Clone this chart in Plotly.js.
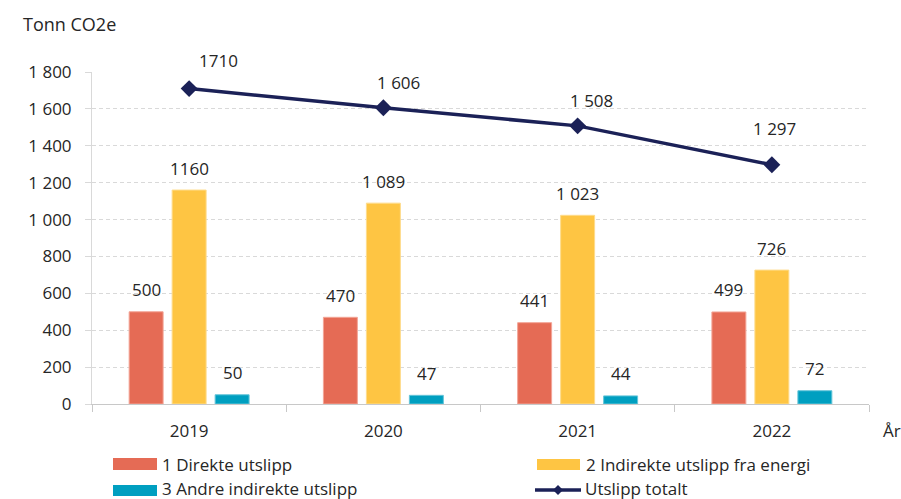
<!DOCTYPE html>
<html>
<head>
<meta charset="utf-8">
<script src="https://cdn.plot.ly/plotly-3.0.1.min.js"></script>
<style>html,body{margin:0;padding:0;background:#fff;}#chart{width:901px;height:499px;}</style>
</head>
<body>
<div id="chart"></div>
<script>
// ---- data ----
const years = ["2019", "2020", "2021", "2022"];
const direkte = [500, 470, 441, 499];
const indirekteEnergi = [1160, 1089, 1023, 726];
const andreIndirekte = [50, 47, 44, 72];
const totalt = [1710, 1606, 1508, 1297];
const direkteLabels = ["500", "470", "441", "499"];
const indirekteEnergiLabels = ["1160", "1 089", "1 023", "726"];
const andreIndirekteLabels = ["50", "47", "44", "72"];
const totaltLabels = ["1710", "1 606", "1 508", "1 297"];
const seriesNames = ["1 Direkte utslipp", "2 Indirekte utslipp fra energi", "3 Andre indirekte utslipp", "Utslipp totalt"];
const yTickVals = [0, 200, 400, 600, 800, 1000, 1200, 1400, 1600, 1800];
const yTickText = ["0", "200", "400", "600", "800", "1 000", "1 200", "1 400", "1 600", "1 800"];

// ---- styles ----
const cRed = "#e56b55", cYellow = "#fec543", cTeal = "#009fc0", cNavy = "#1b2157";
const txt = "#262626";
const FONT = "Open Sans, Noto Sans, sans-serif";
const M = {l: 92, r: 32, t: 72, b: 95};
const W = 901, H = 499;
const PW = W - M.l - M.r, PH = H - M.t - M.b;
const px = x => (x - M.l) / PW;
const py = y => (H - M.b - y) / PH;

const barStyle = (c, lc) => ({color: c, line: {color: lc, width: 1}});
const traces = [
  {type: "bar", x: years, y: direkte, name: seriesNames[0], marker: barStyle(cRed, "#f3a597"), showlegend: false, hoverinfo: "y"},
  {type: "bar", x: years, y: indirekteEnergi, name: seriesNames[1], marker: barStyle(cYellow, "#fedc8c"), showlegend: false, hoverinfo: "y"},
  {type: "bar", x: years, y: andreIndirekte, name: seriesNames[2], marker: barStyle(cTeal, "#66c5d9"), showlegend: false, hoverinfo: "y"},
  {type: "scatter", mode: "lines+markers", x: years, y: totalt, name: seriesNames[3],
   line: {color: cNavy, width: 3.5}, marker: {symbol: "diamond", size: 13, color: cNavy}, showlegend: false, cliponaxis: false}
];

const annotations = [];
const barSets = [[direkte, direkteLabels, -43], [indirekteEnergi, indirekteEnergiLabels, 0], [andreIndirekte, andreIndirekteLabels, 43]];
barSets.forEach(([vals, labs, dx]) => {
  years.forEach((yr, i) => {
    annotations.push({x: i, y: vals[i], text: labs[i], showarrow: false, xshift: dx, yshift: 22,
      xanchor: "center", yanchor: "middle", font: {family: FONT, size: 17, color: txt}});
  });
});
const lineDx = [29, 15, 14, 3], lineDy = [28, 25, 25, 36];
years.forEach((yr, i) => {
  annotations.push({x: i, y: totalt[i], text: totaltLabels[i], showarrow: false, xshift: lineDx[i], yshift: lineDy[i],
    xanchor: "center", yanchor: "middle", font: {family: FONT, size: 17, color: txt}});
});
// axis title "År"
annotations.push({xref: "paper", yref: "paper", x: px(881), y: py(431), xanchor: "left", yanchor: "middle",
  text: "År", showarrow: false, font: {family: FONT, size: 17, color: txt}});
// legend texts
const legItems = [
  {x: 161, y: 464, t: seriesNames[0]},
  {x: 585, y: 464, t: seriesNames[1]},
  {x: 161, y: 488, t: seriesNames[2]},
  {x: 584, y: 488, t: seriesNames[3]}
];
legItems.forEach(it => annotations.push({xref: "paper", yref: "paper", x: px(it.x), y: py(it.y), xanchor: "left", yanchor: "middle",
  text: it.t, showarrow: false, borderpad: 0, font: {family: FONT, size: 17, color: txt}}));

const rect = (x0, x1, y0, y1, c) => ({type: "rect", xref: "paper", yref: "paper", x0: px(x0), x1: px(x1), y0: py(y1), y1: py(y0),
  fillcolor: c, line: {width: 0}, layer: "above"});
const shapes = [
  rect(113, 157, 458, 470, cRed),
  rect(537, 580, 459, 470, cYellow),
  rect(113, 157, 485, 496, cTeal),
  {type: "line", xref: "paper", yref: "paper", x0: px(535), x1: px(581), y0: py(490), y1: py(490), line: {color: cNavy, width: 3.5}},
  {type: "path", xref: "paper", yref: "paper",
   path: `M ${px(558)} ${py(485)} L ${px(563)} ${py(490)} L ${px(558)} ${py(495)} L ${px(553)} ${py(490)} Z`,
   fillcolor: cNavy, line: {color: cNavy, width: 0}}
];

const layout = {
  width: W, height: H, margin: M,
  paper_bgcolor: "#fff", plot_bgcolor: "#fff",
  font: {family: FONT, size: 17, color: txt},
  title: {text: "Tonn CO2e", xref: "container", yref: "container", x: 23 / W, xanchor: "left", y: 1 - 25 / H, yanchor: "middle",
          font: {family: FONT, size: 18, color: txt}},
  barmode: "group", bargap: 0.336, bargroupgap: 0.21,
  showlegend: false,
  xaxis: {type: "category", range: [-0.5, 3.5], autorange: false, showline: true, linecolor: "#c8c8c8", linewidth: 1, ticks: "outside", tickson: "boundaries",
          ticklen: 7, tickcolor: "#c8c8c8", showgrid: false, tickangle: 0, tickfont: {family: FONT, size: 17, color: txt}, ticklabelstandoff: 12},
  yaxis: {range: [0, 1800], autorange: false, tickvals: yTickVals, ticktext: yTickText, showline: true, linecolor: "#d9d9d9", linewidth: 1,
          ticks: "outside", ticklen: 6, tickcolor: "#d9d9d9", showgrid: true, gridcolor: "#d9d9d9", griddash: "4px,3px",
          zeroline: false, tickfont: {family: FONT, size: 17, color: txt}, ticklabelstandoff: 10},
  annotations: annotations, shapes: shapes
};

Plotly.newPlot("chart", traces, layout, {displayModeBar: false, staticPlot: true});
</script>
</body>
</html>
